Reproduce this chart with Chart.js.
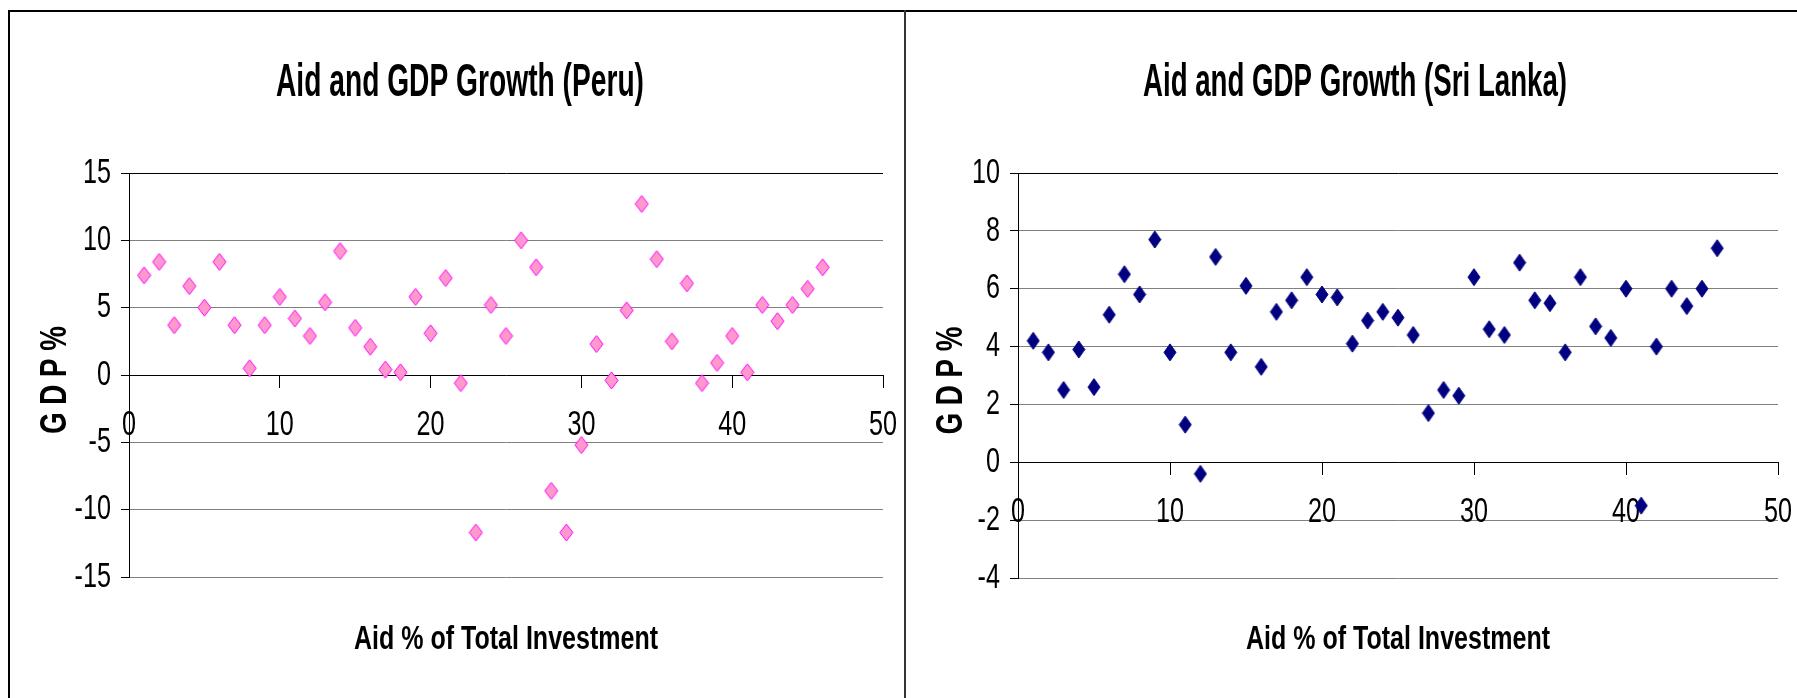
<!DOCTYPE html>
<html>
<head>
<meta charset="utf-8">
<script src="https://cdn.jsdelivr.net/npm/chart.js@4.4.1/dist/chart.umd.min.js"></script>
<style>
  html, body { margin: 0; padding: 0; background: #fff; overflow: hidden; }
  body { width: 1797px; height: 698px; position: relative; }
  .frame { position: absolute; left: 8px; top: 10px; width: 1800px; height: 700px;
           border-top: 2px solid #000; border-left: 2px solid #000; }
  .divider { position: absolute; left: 904px; top: 10px; width: 2px; height: 700px; background: #333; }
  canvas { position: absolute; top: 12px; }
  #peruChart { left: 10px; }
  #sriLankaChart { left: 907px; }
</style>
</head>
<body>
<div class="frame"></div>
<div class="divider"></div>
<canvas id="peruChart" width="894" height="686"></canvas>
<canvas id="sriLankaChart" width="890" height="686"></canvas>
<script>
// aid share of total investment (x) - same positions in both panels
const aidShare = [1, 2, 3, 4, 5, 6, 7, 8, 9, 10, 11, 12, 13, 14, 15, 16, 17, 18, 19, 20, 21, 22, 23,
    24, 25, 26, 27, 28, 29, 30, 31, 32, 33, 34, 35, 36, 37, 38, 39, 40, 41, 42, 43, 44, 45, 46];

// GDP growth %
const peruGdp = [7.4, 8.4, 3.7, 6.6, 5.0, 8.4, 3.7, 0.5, 3.7, 5.8, 4.2, 2.9, 5.4, 9.2, 3.5, 2.1, 0.4, 0.2,
    5.8, 3.1, 7.2, -0.6, -11.7, 5.2, 2.9, 10.0, 8.0, -8.6, -11.7, -5.2, 2.3, -0.4, 4.8, 12.7, 8.6, 2.5,
    6.8, -0.6, 0.9, 2.9, 0.2, 5.2, 4.0, 5.2, 6.4, 8.0];
const sriLankaGdp = [4.2, 3.8, 2.5, 3.9, 2.6, 5.1, 6.5, 5.8, 7.7, 3.8, 1.3, -0.4, 7.1, 3.8, 6.1, 3.3, 5.2,
    5.6, 6.4, 5.8, 5.7, 4.1, 4.9, 5.2, 5.0, 4.4, 1.7, 2.5, 2.3, 6.4, 4.6, 4.4, 6.9, 5.6, 5.5, 3.8, 6.4,
    4.7, 4.3, 6.0, -1.5, 4.0, 6.0, 5.4, 6.0, 7.4];

const titles = ['Aid and GDP Growth (Peru)', 'Aid and GDP Growth (Sri Lanka)'];
const xAxisTitle = 'Aid % of Total Investment';
const yAxisTitle = 'G D P %';

const FONT = "'Liberation Sans Narrow', 'Arial Narrow', 'Liberation Sans', Arial, sans-serif";

// diamond marker, a bit taller than wide like the original
const makeDiamond = (w, h, fill, stroke) => {
    const c = document.createElement('canvas');
    c.width = w + 2;
    c.height = h + 2;
    const g = c.getContext('2d');
    const cx = c.width / 2, cy = c.height / 2;
    g.beginPath();
    g.moveTo(cx, cy - h / 2);
    g.lineTo(cx + w / 2, cy);
    g.lineTo(cx, cy + h / 2);
    g.lineTo(cx - w / 2, cy);
    g.closePath();
    g.fillStyle = fill;
    g.fill();
    g.strokeStyle = stroke;
    g.lineWidth = 1;
    g.stroke();
    return c;
};

// the original uses a very narrow face, so text is squeezed along its direction
const drawSqueezed = (ctx, text, x, y, sx, align, rotation = 0) => {
    ctx.save();
    ctx.translate(x, y);
    ctx.rotate(rotation);
    ctx.scale(sx, 1);
    ctx.textAlign = align;
    ctx.fillText(text, 0, 0);
    ctx.restore();
};

// chart title, axis titles
const panelText = {
    id: 'panelText',
    afterDraw(chart, args, opts) {
        const { ctx, chartArea } = chart;
        ctx.save();
        ctx.fillStyle = '#000';
        ctx.textBaseline = 'alphabetic';

        ctx.font = `bold 46px ${FONT}`;
        let sx = opts.titleWidth / ctx.measureText(opts.title).width;
        drawSqueezed(ctx, opts.title, opts.titleX, 84, sx, 'center');

        ctx.font = `bold 33px ${FONT}`;
        sx = 304 / ctx.measureText(xAxisTitle).width;
        drawSqueezed(ctx, xAxisTitle, (chartArea.left + chartArea.right) / 2, 637, sx, 'center');

        ctx.font = `bold 36px ${FONT}`;
        ctx.textBaseline = 'middle';
        sx = 108 / ctx.measureText(yAxisTitle).width;
        drawSqueezed(ctx, yAxisTitle, opts.yTitleX, (chartArea.top + chartArea.bottom) / 2 + 5, sx, 'center', -Math.PI / 2);
        ctx.restore();
    }
};

// tick labels, drawn under the points, positioned from the chart's own scales
const squeezedTicks = {
    id: 'squeezedTicks',
    beforeDatasetsDraw(chart) {
        const { ctx } = chart;
        const { x, y } = chart.scales;
        ctx.save();
        ctx.fillStyle = '#000';
        ctx.font = `35px ${FONT}`;
        ctx.textBaseline = 'middle';
        const sx = 0.72;
        const zeroY = y.getPixelForValue(0);
        x.ticks.forEach(t => {
            drawSqueezed(ctx, String(t.value), x.getPixelForValue(t.value), zeroY + 50, sx, 'center');
        });
        y.ticks.forEach(t => {
            drawSqueezed(ctx, String(t.value), y.right - 18, y.getPixelForValue(t.value), sx, 'right');
        });
        ctx.restore();
    }
};

const renderChart = (canvasId, gdp, marker, yMin, yMax, yStep, opts) => {
    const ctx = document.getElementById(canvasId).getContext('2d');
    const points = aidShare.map((x, i) => ({ x: x, y: gdp[i] }));

    return new Chart(ctx, {
        type: 'scatter',
        data: {
            datasets: [{
                data: points,
                pointStyle: marker,
                pointRadius: 8,
                pointHoverRadius: 8
            }]
        },
        options: {
            responsive: false,
            devicePixelRatio: 1,
            animation: false,
            layout: {
                padding: { left: 0, top: opts.top, right: opts.right, bottom: opts.bottom }
            },
            plugins: {
                legend: { display: false },
                tooltip: { enabled: false },
                panelText: {
                    title: opts.title,
                    titleX: opts.titleX,
                    titleWidth: opts.titleWidth,
                    yTitleX: opts.yTitleX
                }
            },
            scales: {
                x: {
                    type: 'linear',
                    position: { y: 0 },
                    min: 0,
                    max: 50,
                    ticks: { stepSize: 10, display: false },
                    grid: {
                        drawOnChartArea: false,
                        tickLength: 12,
                        color: '#000'
                    },
                    border: { color: '#000', width: 1 }
                },
                y: {
                    type: 'linear',
                    min: yMin,
                    max: yMax,
                    ticks: { stepSize: yStep, display: false },
                    grid: {
                        color: (c) => (c.tick && c.tick.value === yMax ? '#000' : '#808080'),
                        tickColor: '#000',
                        tickLength: 8
                    },
                    border: { color: '#000', width: 1 },
                    afterFit: (scale) => { scale.width = opts.yWidth; }
                }
            }
        },
        plugins: [squeezedTicks, panelText]
    });
};

document.addEventListener('DOMContentLoaded', () => {
    renderChart('peruChart', peruGdp, makeDiamond(13, 17, '#FF99CC', '#FF00FF'), -15, 15, 5, {
        title: titles[0], titleX: 450, titleWidth: 368, yTitleX: 46,
        yWidth: 119, top: 161, right: 21, bottom: 121
    });
    renderChart('sriLankaChart', sriLankaGdp, makeDiamond(12, 17, '#000080', '#000080'), -4, 10, 2, {
        title: titles[1], titleX: 448, titleWidth: 424, yTitleX: 45,
        yWidth: 111, top: 161, right: 19, bottom: 120
    });
});
</script>
</body>
</html>
